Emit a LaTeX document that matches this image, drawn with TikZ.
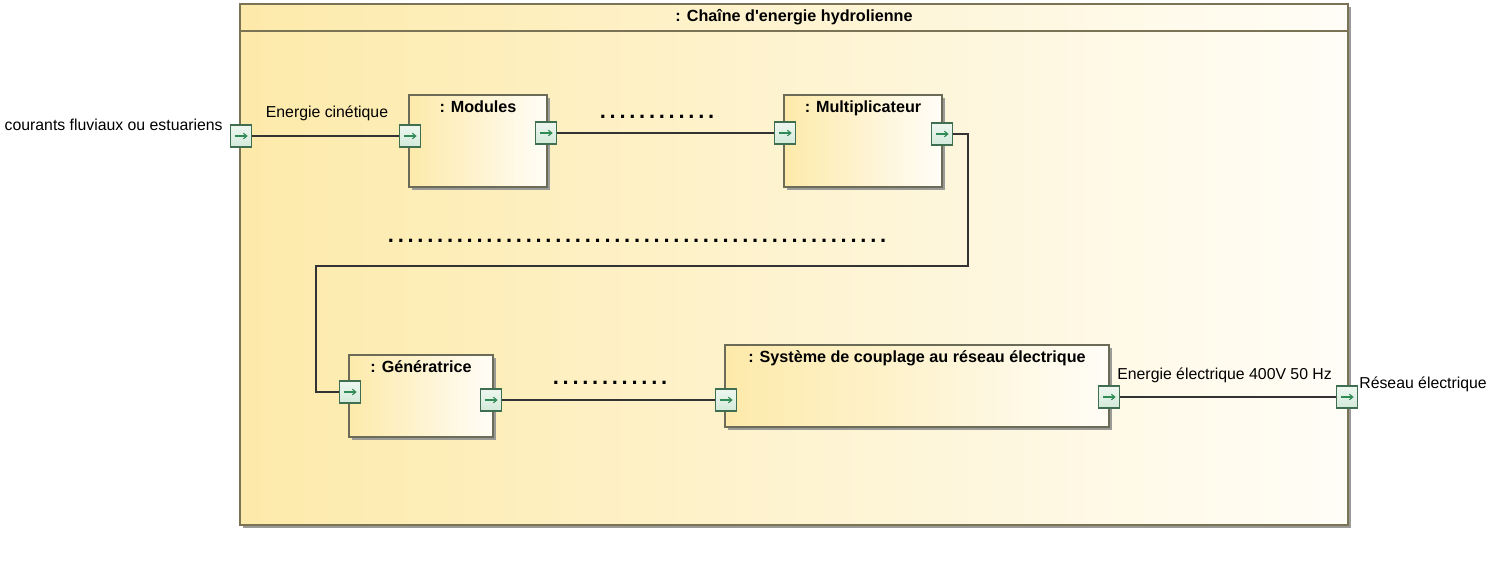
\documentclass[tikz,border=0pt]{standalone}
\usepackage{fontspec}
\setmainfont{Liberation Sans}
\usepackage{tikz}
\usetikzlibrary{arrows.meta, positioning, shadows}
\definecolor{jaune}{HTML}{FDEAAA}
\definecolor{jaunepale}{HTML}{FFFDF7}
\definecolor{bordcadre}{HTML}{7A7355}
\definecolor{bordbloc}{HTML}{6B6B58}
\definecolor{ombre}{HTML}{9A9A96}
\definecolor{vertport}{HTML}{3F6E50}
\definecolor{vertclair}{HTML}{D3EADA}
\definecolor{vertfleche}{HTML}{2F8A55}
\definecolor{gristrait}{HTML}{333333}
\newcommand{\pointilles}[1]{\foreach \i in {1,...,#1}{\makebox[5.6pt]{.}}}

\begin{document}
\begin{tikzpicture}[x=0.02cm,y=-0.02cm,
  txt/.style={font=\fontsize{9}{10}\selectfont, inner sep=0pt},
  titre/.style={font=\fontsize{9.2}{11}\selectfont\bfseries, inner sep=0pt},
  points/.style={font=\fontsize{12.5}{13}\selectfont\bfseries, inner sep=0pt},
  bloc/.style={draw=bordbloc, line width=0.8pt, left color=jaune, right color=jaunepale,
    drop shadow={shadow xshift=1.7pt, shadow yshift=-1.7pt, fill=ombre, opacity=1}},
  port/.style={draw=vertport, line width=0.75pt, top color=vertclair!40!white, bottom color=vertclair,
    minimum width=0.43cm, minimum height=0.44cm, inner sep=0pt,
    path picture={\draw[vertfleche, line width=0.6pt, -{Straight Barb[length=2pt,width=3.2pt]}]
      ([xshift=-3.6pt]path picture bounding box.center) -- ([xshift=3.8pt]path picture bounding box.center);}},
  lien/.style={draw=gristrait, line width=1.1pt}]
\useasboundingbox (0,0) rectangle (1498,569);

\fill[ombre] (243,7) rectangle (1351,528);
\draw[bordcadre, line width=0.9pt, left color=jaune, right color=jaunepale] (240,4) rectangle (1348,525);
\draw[bordcadre, line width=0.9pt] (240,31) -- (1348,31);
\node[titre] (chaine) at (794,17) {: Chaîne d\textquotesingle energie hydrolienne};

\node[bloc, minimum width=2.76cm, minimum height=1.84cm] (modules) at (478,141) {};
\node[bloc, minimum width=3.16cm, minimum height=1.84cm] (multi) at (863,141) {};
\node[bloc, minimum width=2.88cm, minimum height=1.64cm] (gene) at (421,396) {};
\node[bloc, minimum width=7.68cm, minimum height=1.64cm] (couplage) at (917,386) {};

\node[titre, anchor=base] at ([yshift=-10.3pt]modules.north) {: Modules};
\node[titre, anchor=base] at ([yshift=-10.3pt]multi.north) {: Multiplicateur};
\node[titre, anchor=base] at ([yshift=-10.6pt]gene.north) {: Génératrice};
\node[titre, anchor=base] at ([yshift=-10.3pt]couplage.north) {: Système de couplage au réseau électrique};

\node[port] (pIn) at (241,136) {};
\node[port] (pModIn) at (410,136) {};
\node[port] (pModOut) at (546,133) {};
\node[port] (pMulIn) at (785,133) {};
\node[port] (pMulOut) at (942,134) {};
\node[port] (pGenIn) at (350,392) {};
\node[port] (pGenOut) at (491,400) {};
\node[port] (pSysIn) at (726,400) {};
\node[port] (pSysOut) at (1109,397) {};
\node[port] (pOut) at (1347,397) {};

\coordinate (coude1) at (968,266);
\coordinate (coude2) at (316,266);

\draw[lien] (pIn) -- (pModIn);
\draw[lien] (pModOut) -- (pMulIn);
\draw[lien] (pMulOut) -| (coude1) -- (coude2) |- (pGenIn);
\draw[lien] (pGenOut) -- (pSysIn);
\draw[lien] (pSysOut) -- (pOut);

\node[txt, anchor=east] (courants) at (223,125) {courants fluviaux ou estuariens};
\node[txt] (ecin) at (327,113) {Energie cinétique};
\node[txt, anchor=west] (eelec) at (1117,375) {Energie électrique 400V 50 Hz};
\node[txt, anchor=west] (reseau) at (1359,384) {Réseau électrique};

\node[points] (trous1) at (657,117) {\pointilles{12}};
\node[points] (trous2) at (637,241) {\pointilles{51}};
\node[points] (trous3) at (610,383) {\pointilles{12}};
%\node[txt] at (60,540) {interdit};
\end{tikzpicture}
\end{document}
